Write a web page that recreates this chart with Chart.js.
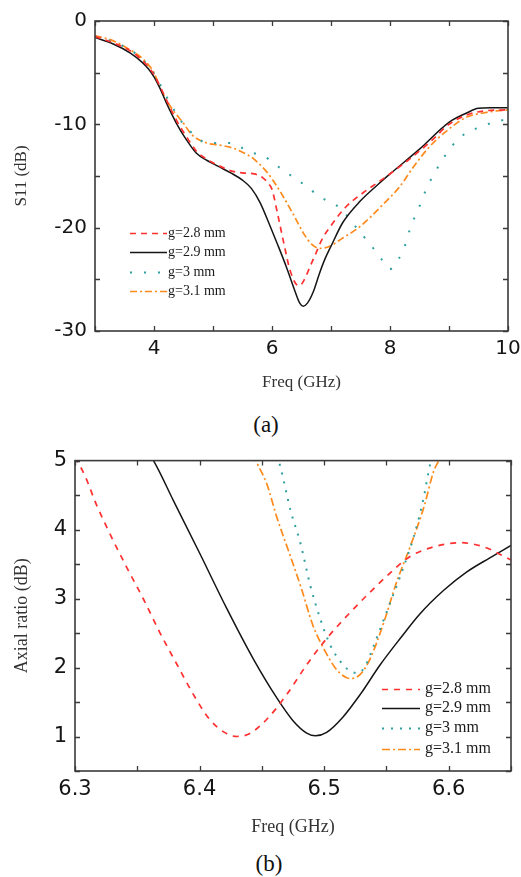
<!DOCTYPE html>
<html>
<head>
<meta charset="utf-8">
<script src="https://cdn.jsdelivr.net/npm/chart.js@4.4.1/dist/chart.umd.min.js"></script>
<style>
  html,body{margin:0;padding:0;background:#fff;}
  #wrap{position:relative;width:521px;height:877px;overflow:hidden;}
  canvas{position:absolute;left:0;}
  .cap{position:absolute;font-family:"Liberation Serif","Times New Roman",serif;font-size:23px;color:#111;transform:translate(-50%,-50%);white-space:nowrap;}
</style>
</head>
<body>
<div id="wrap">
  <canvas id="c1" width="521" height="400" style="top:0"></canvas>
  <div class="cap" style="left:266px;top:425px">(a)</div>
  <canvas id="c2" width="521" height="400" style="top:440px"></canvas>
  <div class="cap" style="left:269px;top:864px">(b)</div>
</div>
<script>
// ---------- DATA: (a) S11 ----------
const labels = ["g=2.8 mm", "g=2.9 mm", "g=3 mm", "g=3.1 mm"];

const s11X_28 = [3.0,3.3,3.6,3.8,3.9,4.0,4.1,4.2,4.38,4.55,4.72,4.9,5.1,5.3,5.5,5.7,5.85,5.95,6.0,6.1,6.2,6.3,6.4,6.47,6.55,6.65,6.75,6.85,7.0,7.25,7.55,7.9,8.3,8.7,9.0,9.3,9.6,10.0];
const s11Y_28 = [-1.5,-2.1,-2.9,-3.8,-4.4,-5.2,-6.3,-7.5,-9.6,-11.2,-12.6,-13.4,-14.0,-14.5,-14.7,-14.8,-15.2,-15.8,-16.3,-18.8,-21.5,-24.0,-25.4,-25.6,-25.0,-23.7,-22.4,-21.1,-19.8,-18.0,-16.6,-15.2,-13.5,-11.6,-10.0,-9.1,-8.7,-8.6];

const s11X_29 = [3.0,3.3,3.6,3.8,3.9,4.0,4.1,4.2,4.38,4.55,4.72,4.9,5.1,5.3,5.5,5.65,5.8,5.95,6.1,6.25,6.38,6.47,6.53,6.6,6.7,6.8,6.9,7.0,7.2,7.5,7.8,8.0,8.5,9.0,9.3,9.5,9.7,10.0];
const s11Y_29 = [-1.6,-2.2,-3.1,-4.0,-4.6,-5.4,-6.5,-7.8,-9.9,-11.5,-12.8,-13.5,-14.1,-14.7,-15.4,-16.2,-17.6,-19.6,-21.7,-23.9,-26.0,-27.3,-27.6,-27.3,-26.2,-24.5,-23.0,-21.8,-19.5,-17.4,-15.8,-14.8,-12.4,-9.8,-8.9,-8.45,-8.4,-8.4];

const s11X_30 = [3.0,3.3,3.6,3.8,3.9,4.0,4.1,4.2,4.35,4.5,4.7,4.89,5.1,5.29,5.5,5.7,5.85,6.01,6.28,6.56,6.81,7.15,7.46,7.69,7.85,8.0,8.15,8.25,8.34,8.51,8.62,8.85,9.05,9.3,9.58,9.86,10.0];
const s11Y_30 = [-1.5,-2.0,-2.8,-3.7,-4.3,-5.1,-6.1,-7.2,-8.7,-10.0,-11.1,-11.8,-11.8,-11.8,-12.3,-12.8,-13.0,-13.7,-14.8,-15.9,-17.0,-18.1,-20.2,-21.8,-23.0,-24.0,-23.0,-21.8,-20.1,-17.8,-16.2,-13.8,-12.1,-10.8,-10.2,-9.6,-9.6];

const s11X_31 = [3.0,3.3,3.6,3.8,3.9,4.0,4.1,4.27,4.4,4.5,4.64,4.89,5.1,5.34,5.5,5.68,5.91,6.05,6.16,6.36,6.53,6.67,6.81,6.98,7.2,7.49,7.89,8.17,8.4,8.68,8.99,9.3,9.58,9.8,10.0];
const s11Y_31 = [-1.4,-1.9,-2.8,-3.6,-4.2,-5.0,-6.4,-8.2,-9.2,-9.9,-11.0,-11.8,-12.0,-12.3,-12.7,-13.3,-14.6,-15.7,-16.7,-18.7,-20.5,-21.6,-22.0,-21.8,-21.0,-19.9,-17.7,-16.0,-14.1,-12.1,-10.5,-9.3,-8.9,-8.7,-8.6];

const s11XTickLabels = [4, 6, 8, 10];
const s11YTickLabels = [0, -10, -20, -30];
const s11XTickMarks = [3, 4, 5, 6, 7, 8, 9, 10];
const s11YTickMarks = [0, -5, -10, -15, -20, -25, -30];

// ---------- DATA: (b) Axial ratio ----------
const arX_28 = [6.300,6.308,6.317,6.328,6.341,6.355,6.368,6.382,6.395,6.408,6.420,6.430,6.440,6.454,6.470,6.486,6.502,6.521,6.539,6.556,6.569,6.588,6.609,6.628,6.650];
const arY_28 = [5.05,4.78,4.37,3.94,3.47,2.99,2.51,2.04,1.61,1.25,1.06,1.00,1.04,1.25,1.61,2.04,2.42,2.80,3.13,3.42,3.61,3.75,3.81,3.75,3.56];

const arX_29 = [6.355,6.363,6.379,6.400,6.422,6.443,6.462,6.475,6.486,6.493,6.502,6.515,6.529,6.545,6.561,6.577,6.596,6.614,6.633,6.650];
const arY_29 = [5.2,5.0,4.42,3.66,2.85,2.13,1.56,1.23,1.05,1.01,1.06,1.28,1.61,2.04,2.42,2.78,3.12,3.38,3.59,3.77];

const arX_30 = [6.460,6.465,6.473,6.481,6.489,6.497,6.505,6.513,6.520,6.527,6.533,6.539,6.550,6.561,6.572,6.580,6.585,6.590];
const arY_30 = [5.2,4.9,4.28,3.80,3.18,2.70,2.32,2.09,1.96,1.92,2.02,2.28,2.80,3.32,3.90,4.47,4.94,5.2];

const arX_31 = [6.443,6.446,6.454,6.462,6.473,6.482,6.491,6.501,6.510,6.521,6.529,6.537,6.548,6.558,6.569,6.580,6.588,6.592,6.594];
const arY_31 = [5.1,4.97,4.66,4.18,3.61,3.13,2.61,2.23,1.97,1.84,1.90,2.13,2.66,3.23,3.75,4.32,4.85,5.0,5.1];

const arXTickLabels = [6.3, 6.4, 6.5, 6.6];
const arYTickLabels = [1, 2, 3, 4, 5];
const arXTickMarks = [6.3,6.35,6.4,6.45,6.5,6.55,6.6,6.65];
const arYTickMarks = [0.5,1,1.5,2,2.5,3,3.5,4,4.5,5];

// ---------- helpers ----------
const pts = (xs, ys) => xs.map((x, i) => ({x, y: ys[i]}));

const frameTicks = {
  id: 'frameTicks',
  afterDatasetsDraw(chart, args, o) {
    const {ctx, chartArea: a} = chart;
    const sx = chart.scales.x, sy = chart.scales.y;
    ctx.save();
    ctx.strokeStyle = o.color;
    ctx.lineWidth = o.width;
    ctx.setLineDash([]);
    ctx.beginPath();
    o.xMarks.forEach(v => {
      const p = Math.round(sx.getPixelForValue(v)) + 0.5;
      ctx.moveTo(p, a.bottom); ctx.lineTo(p, a.bottom - o.len);
      ctx.moveTo(p, a.top); ctx.lineTo(p, a.top + o.len);
    });
    o.yMarks.forEach(v => {
      const p = Math.round(sy.getPixelForValue(v)) + 0.5;
      ctx.moveTo(a.left, p); ctx.lineTo(a.left + o.len, p);
      ctx.moveTo(a.right, p); ctx.lineTo(a.right - o.len, p);
    });
    ctx.stroke();
    ctx.lineWidth = o.frameWidth;
    ctx.strokeRect(a.left, a.top, a.right - a.left, a.bottom - a.top);
    ctx.restore();
  }
};

const innerLegend = {
  id: 'innerLegend',
  afterDatasetsDraw(chart, args, o) {
    const ctx = chart.ctx;
    ctx.save();
    chart.data.datasets.forEach((ds, i) => {
      const y = o.rows[i];
      ctx.beginPath();
      ctx.setLineDash(ds.borderDash || []);
      ctx.lineCap = 'butt';
      ctx.strokeStyle = ds.borderColor;
      ctx.lineWidth = ds.borderWidth;
      ctx.moveTo(o.x0, y + 0.5);
      ctx.lineTo(o.x1, y + 0.5);
      ctx.stroke();
      ctx.setLineDash([]);
      ctx.fillStyle = o.textColor;
      ctx.font = o.font;
      ctx.textBaseline = 'middle';
      ctx.textAlign = 'left';
      ctx.fillText(ds.label, o.tx, y);
    });
    ctx.restore();
  }
};

Chart.defaults.font.family = '"DejaVu Sans", sans-serif';
Chart.defaults.animation = false;

function makeChart(id, cfg) {
  const styles = [
    {borderColor: '#ff3030', borderDash: cfg.dashRed, borderWidth: 1.7},
    {borderColor: '#151515', borderDash: [], borderWidth: 1.5},
    {borderColor: '#2f9f9f', borderDash: cfg.dashTeal, borderWidth: 2},
    {borderColor: '#ff8a1c', borderDash: cfg.dashOrange, borderWidth: 1.7}
  ];
  const datasets = cfg.series.map((s, i) => Object.assign({
    label: labels[i],
    data: pts(s[0], s[1]),
    pointRadius: 0,
    fill: false,
    cubicInterpolationMode: 'monotone',
    borderCapStyle: 'butt'
  }, styles[i]));
  return new Chart(document.getElementById(id), {
    type: 'line',
    data: {datasets},
    options: {
      responsive: false,
      animation: false,
      layout: {padding: {top: cfg.padTop, right: cfg.padRight, left: 0, bottom: 0}},
      plugins: {
        legend: {display: false},
        tooltip: {enabled: false},
        frameTicks: {color: '#3a3a3a', width: 1.3, frameWidth: 1.6, len: 5, xMarks: cfg.xMarks, yMarks: cfg.yMarks},
        innerLegend: cfg.legend
      },
      scales: {
        x: {
          type: 'linear', min: cfg.xMin, max: cfg.xMax,
          grid: {display: false, drawTicks: false},
          border: {display: false},
          afterBuildTicks: s => { s.ticks = cfg.xLabels.map(v => ({value: v})); },
          afterFit: s => { s.height = cfg.xHeight; s.paddingLeft = 0; s.paddingRight = 0; },
          ticks: {autoSkip: false, maxRotation: 0, padding: cfg.xPad, color: '#151515',
                  font: {size: cfg.tickSize}, callback: v => String(v)},
          title: {display: true, text: 'Freq (GHz)', color: '#333',
                  font: {family: '"Liberation Serif", serif', size: cfg.xTitleSize},
                  padding: {top: 0, bottom: cfg.xTitlePad}}
        },
        y: {
          type: 'linear', min: cfg.yMin, max: cfg.yMax,
          grid: {display: false, drawTicks: false},
          border: {display: false},
          afterBuildTicks: s => { s.ticks = cfg.yLabels.map(v => ({value: v})); },
          afterFit: s => { s.width = cfg.yWidth; },
          ticks: {autoSkip: false, padding: cfg.yPad, color: '#151515',
                  font: {size: cfg.tickSize}, callback: v => String(v)},
          title: {display: true, text: cfg.yTitle, color: '#333',
                  font: {family: '"Liberation Serif", serif', size: cfg.yTitleSize},
                  padding: {top: cfg.yTitlePad, bottom: 0}}
        }
      }
    },
    plugins: [frameTicks, innerLegend]
  });
}

makeChart('c1', {
  series: [[s11X_28, s11Y_28], [s11X_29, s11Y_29], [s11X_30, s11Y_30], [s11X_31, s11Y_31]],
  dashRed: [6, 5], dashTeal: [2, 12], dashOrange: [7, 3, 2, 3],
  xMin: 3, xMax: 10, yMin: -30, yMax: 0,
  xLabels: s11XTickLabels, yLabels: s11YTickLabels,
  xMarks: s11XTickMarks, yMarks: s11YTickMarks,
  padTop: 21, padRight: 13, yWidth: 95, xHeight: 69,
  tickSize: 20, xPad: 6, yPad: 8,
  xTitleSize: 17, xTitlePad: 7, yTitle: 'S11 (dB)', yTitleSize: 17, yTitlePad: 11,
  legend: {rows: [233, 252, 272, 291], x0: 130, x1: 167, tx: 168, font: '14px "Liberation Serif", serif', textColor: '#1a1a1a'}
});

makeChart('c2', {
  series: [[arX_28, arY_28], [arX_29, arY_29], [arX_30, arY_30], [arX_31, arY_31]],
  dashRed: [6, 6], dashTeal: [2, 7], dashOrange: [8, 3, 2, 3],
  xMin: 6.3, xMax: 6.65, yMin: 0.5, yMax: 5,
  xLabels: arXTickLabels, yLabels: arYTickLabels,
  xMarks: arXTickMarks, yMarks: arYTickMarks,
  padTop: 16, padRight: 10, yWidth: 75, xHeight: 69,
  tickSize: 21, xPad: 6, yPad: 8,
  xTitleSize: 18, xTitlePad: 2, yTitle: 'Axial ratio (dB)', yTitleSize: 18, yTitlePad: 11,
  legend: {rows: [689, 708, 728, 749].map(v => v - 440), x0: 382, x1: 420, tx: 425, font: '16px "Liberation Serif", serif', textColor: '#1a1a1a'}
});
</script>
</body>
</html>
